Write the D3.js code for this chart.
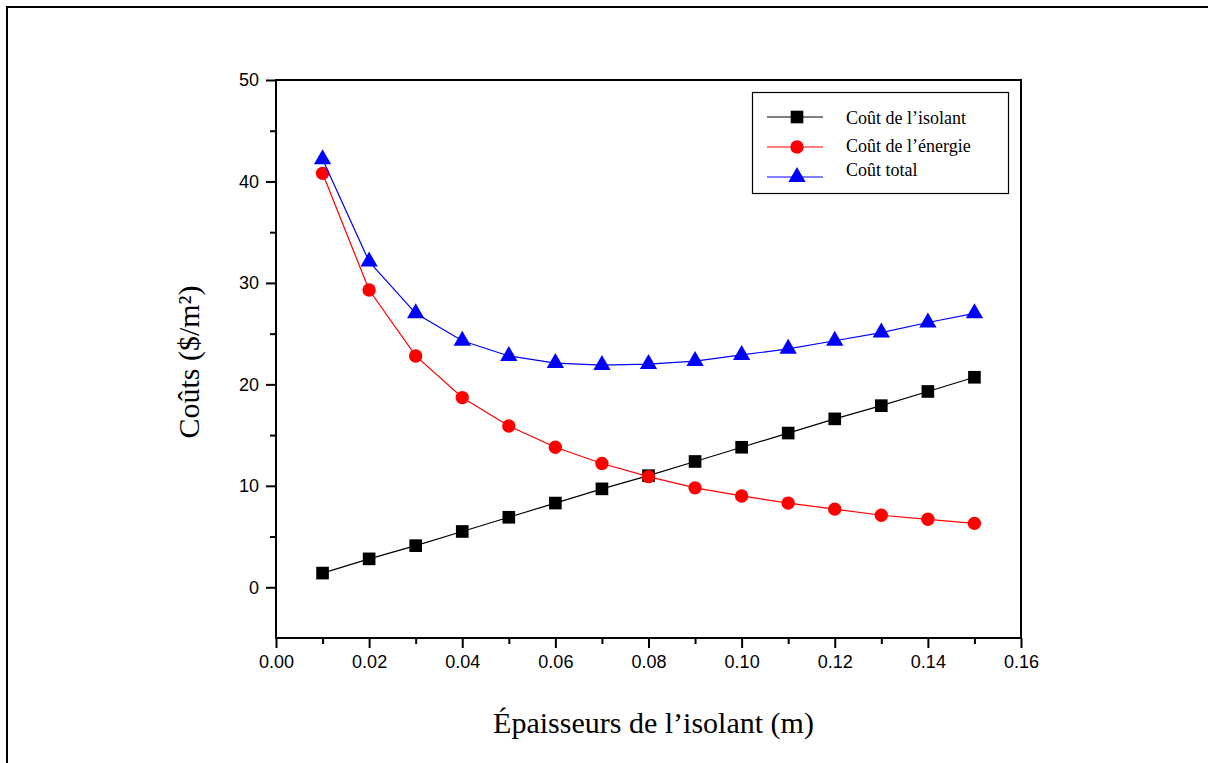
<!DOCTYPE html>
<html>
<head>
<meta charset="utf-8">
<script src="https://cdn.jsdelivr.net/npm/d3@7.9.0/dist/d3.min.js"></script>
<style>
  body { margin: 0; background: #fff; }
  svg { display: block; }
</style>
</head>
<body>
<div id="chart"></div>
<script>
// data
const thickness = [0.01, 0.02, 0.03, 0.04, 0.05, 0.06, 0.07, 0.08, 0.09, 0.10, 0.11, 0.12, 0.13, 0.14, 0.15];
const insulationCost = [1.4, 2.8, 4.1, 5.5, 6.9, 8.3, 9.7, 11.0, 12.4, 13.8, 15.2, 16.6, 17.9, 19.3, 20.7];
const energyCost = [40.8, 29.3, 22.8, 18.7, 15.9, 13.8, 12.2, 10.9, 9.8, 9.0, 8.3, 7.7, 7.1, 6.7, 6.3];
const totalCost = [42.2, 32.1, 27.0, 24.3, 22.8, 22.1, 21.9, 22.0, 22.3, 22.9, 23.5, 24.3, 25.1, 26.1, 27.0];
const xTicks = [0, 0.02, 0.04, 0.06, 0.08, 0.10, 0.12, 0.14, 0.16];
const yTicks = [0, 10, 20, 30, 40, 50];

const series = [
  { name: 'Coût de l\u2019isolant', values: insulationCost, color: '#000000', symbol: d3.symbolSquare, size: 160 },
  { name: 'Coût de l\u2019énergie', values: energyCost, color: '#ff0000', symbol: d3.symbolCircle, size: 140 },
  { name: 'Coût total', values: totalCost, color: '#0000ff', symbol: d3.symbolTriangle, size: 130 },
];

const width = 1208;
const height = 763;
const plot = { left: 276, right: 1021, top: 80, bottom: 638 };

const svg = d3.select('#chart').append('svg')
  .attr('width', width)
  .attr('height', height);

// outer frame (top and left edges only)
svg.append('path')
  .attr('d', `M7,${height} L7,7 L${width},7`)
  .attr('fill', 'none')
  .attr('stroke', '#000')
  .attr('stroke-width', 2);

const xScale = d3.scaleLinear().domain([0, 0.16]).range([plot.left, plot.right]);
const yScale = d3.scaleLinear().domain([-5, 50]).range([plot.bottom, plot.top]);

const tickFont = '"Liberation Sans", Arial, sans-serif';
const serif = '"Liberation Serif", "Times New Roman", serif';

// minor ticks
svg.append('g')
  .attr('transform', `translate(0,${plot.bottom})`)
  .call(d3.axisBottom(xScale).tickValues(d3.range(1, 16, 2).map(d => d / 100)).tickSize(6).tickFormat(''))
  .call(g => g.select('.domain').remove())
  .call(g => g.selectAll('line').attr('stroke-width', 2));
svg.append('g')
  .attr('transform', `translate(${plot.left},0)`)
  .call(d3.axisLeft(yScale).tickValues([5, 15, 25, 35, 45]).tickSize(6).tickFormat(''))
  .call(g => g.select('.domain').remove())
  .call(g => g.selectAll('line').attr('stroke-width', 2));

// major ticks + labels
svg.append('g')
  .attr('transform', `translate(0,${plot.bottom})`)
  .call(d3.axisBottom(xScale).tickValues(xTicks).tickSize(10).tickPadding(7).tickFormat(d3.format('.2f')))
  .call(g => g.select('.domain').remove())
  .call(g => g.selectAll('line').attr('stroke-width', 2))
  .call(g => g.selectAll('text').attr('font-family', tickFont).attr('font-size', 18).attr('fill', '#000'));

svg.append('g')
  .attr('transform', `translate(${plot.left},0)`)
  .call(d3.axisLeft(yScale).tickValues(yTicks).tickSize(10).tickPadding(7))
  .call(g => g.select('.domain').remove())
  .call(g => g.selectAll('line').attr('stroke-width', 2))
  .call(g => g.selectAll('text').attr('font-family', tickFont).attr('font-size', 18).attr('fill', '#000'));

// plot box
svg.append('rect')
  .attr('x', plot.left)
  .attr('y', plot.top)
  .attr('width', plot.right - plot.left)
  .attr('height', plot.bottom - plot.top)
  .attr('fill', 'none')
  .attr('stroke', '#000')
  .attr('stroke-width', 2);

// series
const line = d3.line().x((d, i) => xScale(thickness[i])).y(d => yScale(d));

series.forEach(s => {
  svg.append('path')
    .datum(s.values)
    .attr('d', line)
    .attr('fill', 'none')
    .attr('stroke', s.color)
    .attr('stroke-width', 1.2);
  svg.append('g')
    .selectAll('path')
    .data(s.values)
    .join('path')
    .attr('transform', (d, i) => `translate(${xScale(thickness[i])},${yScale(d)})`)
    .attr('d', d3.symbol(s.symbol, s.size))
    .attr('fill', s.color);
});

// legend
const legend = svg.append('g');
legend.append('rect')
  .attr('x', 752.5).attr('y', 92.5)
  .attr('width', 256).attr('height', 101)
  .attr('fill', '#fff')
  .attr('stroke', '#000')
  .attr('stroke-width', 1.2);

const legendRows = [117, 147, 177];
const legendTextY = [118, 146, 170];
series.forEach((s, i) => {
  legend.append('line')
    .attr('x1', 767).attr('x2', 823)
    .attr('y1', legendRows[i]).attr('y2', legendRows[i])
    .attr('stroke', s.color).attr('stroke-width', 1.2);
  legend.append('path')
    .attr('transform', `translate(797,${legendRows[i]})`)
    .attr('d', d3.symbol(s.symbol, s.size))
    .attr('fill', s.color);
  legend.append('text')
    .attr('x', 846).attr('y', legendTextY[i])
    .attr('dy', '0.35em')
    .attr('font-family', serif)
    .attr('font-size', 18)
    .text(s.name);
});

// axis titles
svg.append('text')
  .attr('x', (plot.left + plot.right) / 2 + 5)
  .attr('y', 722)
  .attr('dy', '0.35em')
  .attr('text-anchor', 'middle')
  .attr('font-family', serif)
  .attr('font-size', 30)
  .text('Épaisseurs de l\u2019isolant (m)');

svg.append('text')
  .attr('transform', `translate(188,362) rotate(-90)`)
  .attr('dy', '0.35em')
  .attr('text-anchor', 'middle')
  .attr('font-family', serif)
  .attr('font-size', 30)
  .text('Coûts ($/m²)');
</script>
</body>
</html>
